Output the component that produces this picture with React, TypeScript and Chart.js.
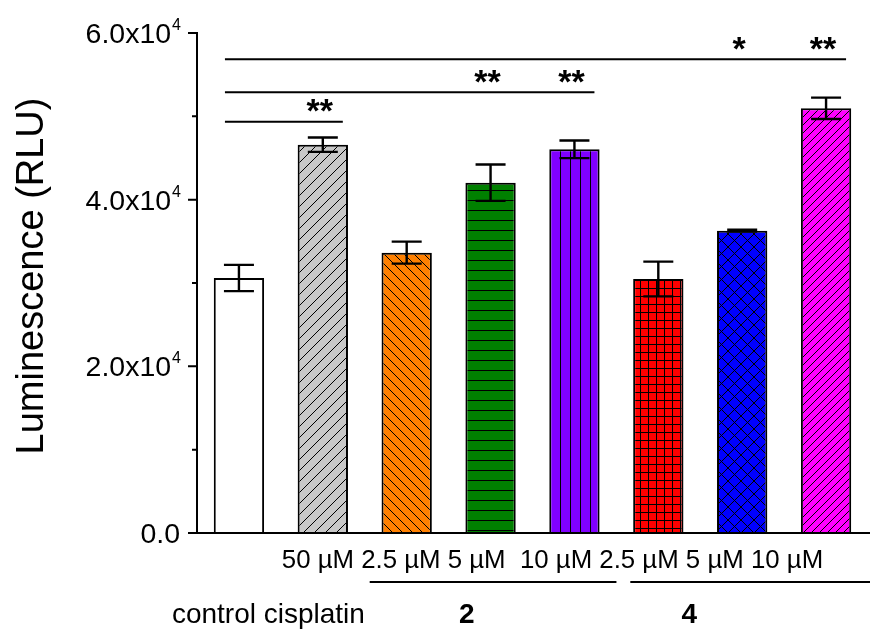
import React, { useEffect, useRef } from "react";
import { Chart, registerables } from "chart.js";

Chart.register(...registerables);

// ---------- data ----------
const categories = ["control", "cisplatin 50 µM", "2 · 2.5 µM", "2 · 5 µM", "2 · 10 µM", "4 · 2.5 µM", "4 · 5 µM", "4 · 10 µM"];
const means = [30600, 46600, 33640, 42040, 46040, 30480, 36280, 50960];
const errors = [1580, 860, 1320, 2180, 1060, 2080, 120, 1280];
const fillColors = ["#ffffff", "#c8c8c8", "#ff8000", "#008000", "#8000ff", "#ff0000", "#0000ff", "#ff00ff"];
const hatchKinds = ["none", "fwd", "back", "horiz", "vert", "grid", "cross", "fwdDense"];

const concLabels = ["50 µM", "2.5 µM", "5 µM", "10 µM", "2.5 µM", "5 µM", "10 µM"];
const treatmentLabels = ["control", "cisplatin"];
const compoundLabels = ["2", "4"];

const yMajorTicks = [0, 20000, 40000, 60000];
const yMinorTicks = [10000, 30000, 50000];
const yTickMantissas = ["0.0", "2.0x10", "4.0x10", "6.0x10"];
const yTickExponents = ["", "4", "4", "4"];
const yTitle = "Luminescence (RLU)";

// significance brackets: from category, to category, height (data units)
const bracketFrom = [0, 0, 0];
const bracketTo = [7, 4, 1];
const bracketLevel = [56840, 52880, 49360];
// significance marks: category, bracket index, text
const starCats = [1, 3, 4, 6, 7];
const starBracket = [2, 1, 1, 0, 0];
const starTexts = ["**", "**", "**", "*", "**"];

const FONT = "'Liberation Sans', Arial, Helvetica, sans-serif";

function makePattern(kind: string, color: string): any {
  if (kind === "none") return color;
  const sizes: Record<string, number> = { fwd: 11, back: 10, horiz: 10, vert: 10, grid: 8, cross: 13, fwdDense: 8 };
  const s = sizes[kind];
  const c = document.createElement("canvas");
  c.width = s;
  c.height = s;
  const g = c.getContext("2d")!;
  g.fillStyle = color;
  g.fillRect(0, 0, s, s);
  g.strokeStyle = "#000";
  g.fillStyle = "#000";
  g.lineWidth = 1;
  const fwd = () => {
    g.beginPath();
    g.moveTo(-1, s + 1); g.lineTo(s + 1, -1);
    g.moveTo(-2, 2); g.lineTo(2, -2);
    g.moveTo(s - 2, s + 2); g.lineTo(s + 2, s - 2);
    g.stroke();
  };
  const back = () => {
    g.beginPath();
    g.moveTo(-1, -1); g.lineTo(s + 1, s + 1);
    g.moveTo(-2, s - 2); g.lineTo(2, s + 2);
    g.moveTo(s - 2, -2); g.lineTo(s + 2, 2);
    g.stroke();
  };
  if (kind === "fwd" || kind === "fwdDense") fwd();
  if (kind === "back") back();
  if (kind === "cross") { fwd(); back(); }
  if (kind === "horiz" || kind === "grid") g.fillRect(0, 0, s, 1);
  if (kind === "vert" || kind === "grid") g.fillRect(0, 0, 1, s);
  const p = document.createElement("canvas").getContext("2d")!.createPattern(c, "repeat");
  return p;
}

const overlayPlugin = {
  id: "overlay",
  afterDatasetsDraw(chart: any) {
    const ctx: CanvasRenderingContext2D = chart.ctx;
    const xs = chart.scales.x;
    const ys = chart.scales.y;
    const area = chart.chartArea;
    ctx.save();
    ctx.strokeStyle = "#000";
    ctx.fillStyle = "#000";
    ctx.lineCap = "butt";

    // error bars
    const meta = chart.getDatasetMeta(0);
    meta.data.forEach((bar: any, i: number) => {
      const cx = bar.x;
      const top = ys.getPixelForValue(means[i] + errors[i]);
      const bot = ys.getPixelForValue(means[i] - errors[i]);
      ctx.lineWidth = 2.4;
      ctx.beginPath();
      ctx.moveTo(cx, top); ctx.lineTo(cx, bot);
      ctx.moveTo(cx - 15, top); ctx.lineTo(cx + 15, top);
      ctx.moveTo(cx - 15, bot); ctx.lineTo(cx + 15, bot);
      ctx.stroke();
    });

    // axes
    const yTop = ys.getPixelForValue(60000);
    ctx.lineWidth = 2;
    ctx.beginPath();
    ctx.moveTo(area.left, yTop - 1);
    ctx.lineTo(area.left, area.bottom);
    ctx.moveTo(area.left - 9, area.bottom);
    ctx.lineTo(chart.width, area.bottom);
    yMajorTicks.forEach((v) => {
      const py = ys.getPixelForValue(v);
      ctx.moveTo(area.left - 9, py); ctx.lineTo(area.left, py);
    });
    yMinorTicks.forEach((v) => {
      const py = ys.getPixelForValue(v);
      ctx.moveTo(area.left - 5, py); ctx.lineTo(area.left, py);
    });
    ctx.stroke();

    // y tick labels with superscript exponent
    ctx.textBaseline = "alphabetic";
    ctx.textAlign = "left";
    yMajorTicks.forEach((v, i) => {
      const py = ys.getPixelForValue(v);
      const right = area.left - 17;
      ctx.font = `16px ${FONT}`;
      const wE = yTickExponents[i] ? ctx.measureText(yTickExponents[i]).width : 0;
      ctx.font = `28.5px ${FONT}`;
      const wM = ctx.measureText(yTickMantissas[i]).width;
      const x0 = right - wE - wM;
      ctx.fillText(yTickMantissas[i], x0, py + 10);
      if (yTickExponents[i]) {
        ctx.font = `16px ${FONT}`;
        ctx.fillText(yTickExponents[i], x0 + wM + 1, py - 3);
      }
    });

    // y title
    ctx.save();
    ctx.translate(43, 276);
    ctx.rotate(-Math.PI / 2);
    ctx.font = `38px ${FONT}`;
    ctx.textAlign = "center";
    ctx.fillText(yTitle, 0, 0);
    ctx.restore();

    // significance brackets
    ctx.lineWidth = 2;
    bracketFrom.forEach((f, i) => {
      const py = ys.getPixelForValue(bracketLevel[i]);
      ctx.beginPath();
      ctx.moveTo(xs.getPixelForValue(f) - 14, py);
      ctx.lineTo(xs.getPixelForValue(bracketTo[i]) + 20, py);
      ctx.stroke();
    });
    ctx.font = `bold 34px ${FONT}`;
    ctx.textAlign = "center";
    starCats.forEach((c, i) => {
      const py = ys.getPixelForValue(bracketLevel[starBracket[i]]);
      const m = ctx.measureText(starTexts[i]);
      const centerY = py - 16;
      const base = centerY + (m.actualBoundingBoxAscent - m.actualBoundingBoxDescent) / 2;
      ctx.fillText(starTexts[i], xs.getPixelForValue(c) - 3, base);
    });

    // concentration row
    ctx.textAlign = "left";
    ctx.font = `25.8px ${FONT}`;
    const concText = concLabels.slice(0, 3).join(" ") + "  " + concLabels.slice(3).join(" ");
    ctx.fillText(concText, xs.getPixelForValue(1) - 41, 568);

    // group underlines
    ctx.lineWidth = 2;
    ctx.beginPath();
    ctx.moveTo(xs.getPixelForValue(2) - 37, 582);
    ctx.lineTo(xs.getPixelForValue(4) + 42, 582);
    ctx.moveTo(xs.getPixelForValue(5) - 28, 582);
    ctx.lineTo(chart.width, 582);
    ctx.stroke();

    // bottom row
    ctx.font = `28px ${FONT}`;
    ctx.textAlign = "left";
    ctx.fillText(treatmentLabels.join(" "), xs.getPixelForValue(0) - 67, 623);
    ctx.font = `bold 28px ${FONT}`;
    ctx.textAlign = "center";
    ctx.fillText(compoundLabels[0], xs.getPixelForValue(2) + 60, 623);
    ctx.fillText(compoundLabels[1], xs.getPixelForValue(5) + 31, 623);

    ctx.restore();
  },
};

export default function App() {
  const ref = useRef<HTMLCanvasElement | null>(null);
  useEffect(() => {
    if (!ref.current) return;
    const bg = fillColors.map((c, i) => makePattern(hatchKinds[i], c));
    const chart = new Chart(ref.current, {
      type: "bar",
      data: {
        labels: categories,
        datasets: [
          {
            data: means,
            backgroundColor: bg,
            borderColor: "#000",
            borderWidth: 2,
            categoryPercentage: 1,
            barPercentage: 0.6,
          },
        ],
      },
      options: {
        responsive: false,
        animation: false,
        devicePixelRatio: 1,
        layout: { padding: { top: 33, right: 2, left: 0, bottom: 0 } },
        plugins: { legend: { display: false }, tooltip: { enabled: false } },
        scales: {
          x: {
            grid: { display: false },
            border: { display: false },
            ticks: { display: false },
            afterFit: (s: any) => { s.height = 98; },
          },
          y: {
            min: 0,
            max: 60000,
            grid: { display: false },
            border: { display: false },
            ticks: { display: false },
            afterFit: (s: any) => { s.width = 197; },
          },
        },
      } as any,
      plugins: [overlayPlugin],
    });
    return () => chart.destroy();
  }, []);
  return (
    <div style={{ position: "fixed", left: 0, top: 0, width: 870, height: 631, background: "#fff" }}>
      <canvas ref={ref} width={870} height={631} style={{ display: "block" }} />
    </div>
  );
}
